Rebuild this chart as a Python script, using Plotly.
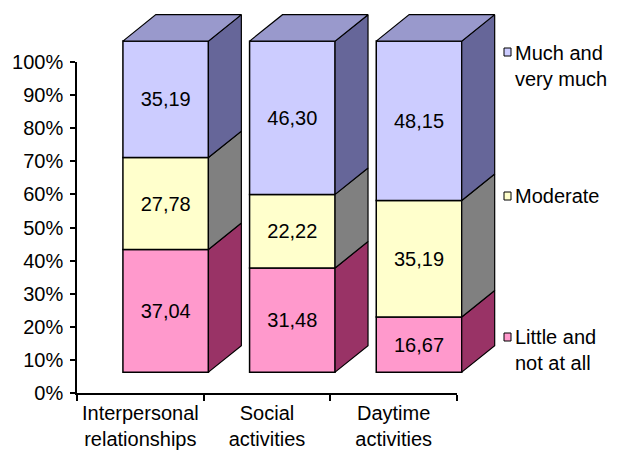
import plotly.graph_objects as go

# ---- data -------------------------------------------------------------
categories = ["Interpersonal<br>relationships", "Social<br>activities", "Daytime<br>activities"]
series_names = ["Little and<br>not at all", "Moderate", "Much and<br>very much"]
little = [37.04, 31.48, 16.67]
moderate = [27.78, 22.22, 35.19]
much = [35.19, 46.30, 48.15]
y_tick_values = [0, 10, 20, 30, 40, 50, 60, 70, 80, 90, 100]
y_tick_labels = [f"{v}%" for v in y_tick_values]

# ---- styling ------------------------------------------------------------
FRONT = ["#FF99CC", "#FFFFCC", "#CCCCFF"]
SIDE = ["#993366", "#808080", "#666699"]
TOP = "#9999CC"
FONT = "Liberation Sans, Arial, sans-serif"

W, H = 620, 452
# pixel frame of the value / category axes
AX_L, AX_R, AX_B, AX_T = 77, 457, 393, 62
UX = (AX_R - AX_L) / len(categories)      # px per category
UY = (AX_B - AX_T) / 100.0                # px per percent

# pseudo-3D geometry, in axis units
LIFT = 6.3        # front face sits above the floor line
DX, DY = 0.26, 8.0  # depth offset of the back face
SHIFT = 0.70      # bar centre inside each category slot
BAR_W = 0.675

series = [little, moderate, much]
centers = [i + SHIFT for i in range(len(categories))]

fig = go.Figure()

# front faces: stacked bars
bases = [LIFT] * len(categories)
for k, vals in enumerate(series):
    fig.add_trace(go.Bar(
        x=centers, y=vals, base=list(bases), width=BAR_W,
        marker=dict(color=FRONT[k], line=dict(color="black", width=1.5)),
        texttemplate="%{y:.2f}", textposition="inside", insidetextanchor="middle",
        textfont=dict(family=FONT, size=20, color="black"),
        constraintext="none", showlegend=False, hoverinfo="skip",
    ))
    bases = [b + v for b, v in zip(bases, vals)]

# right-hand side faces of each segment
bases = [LIFT] * len(categories)
for k, vals in enumerate(series):
    for i, v in enumerate(vals):
        xr = centers[i] + BAR_W / 2
        y0, y1 = bases[i], bases[i] + v
        fig.add_trace(go.Scatter(
            x=[xr, xr + DX, xr + DX, xr, xr],
            y=[y0, y0 + DY, y1 + DY, y1, y0],
            mode="lines", fill="toself", fillcolor=SIDE[k],
            line=dict(color="black", width=1.2),
            showlegend=False, hoverinfo="skip",
        ))
    bases = [b + v for b, v in zip(bases, vals)]

# top faces
for i in range(len(categories)):
    xl, xr = centers[i] - BAR_W / 2, centers[i] + BAR_W / 2
    yt = bases[i]
    fig.add_trace(go.Scatter(
        x=[xl, xl + DX, xr + DX, xr, xl],
        y=[yt, yt + DY, yt + DY, yt, yt],
        mode="lines", fill="toself", fillcolor=TOP,
        line=dict(color="black", width=1.2),
        showlegend=False, hoverinfo="skip",
    ))

# carrier trace for the visible axes
fig.add_trace(go.Scatter(x=[None], y=[None], xaxis="x2", yaxis="y2",
                         showlegend=False, hoverinfo="skip"))

# legend entries
legend_rows = [(series_names[2], FRONT[2], 52, 66),
               (series_names[1], FRONT[1], 196, 196),
               (series_names[0], FRONT[0], 337, 349.5)]
for name, col, sq_y, txt_y in legend_rows:
    fig.add_shape(type="rect", xref="paper", yref="paper",
                  x0=504 / W, x1=511 / W,
                  y0=1 - (sq_y + 4) / H, y1=1 - (sq_y - 4) / H,
                  fillcolor=col, line=dict(color="black", width=1))
    fig.add_annotation(text=name, xref="paper", yref="paper",
                       x=513 / W, y=1 - txt_y / H, xanchor="left", yanchor="middle",
                       align="left", showarrow=False,
                       font=dict(family=FONT, size=20, color="black"))

fig.update_layout(
    template="none",
    width=W, height=H,
    margin=dict(l=0, r=0, t=0, b=0, autoexpand=False),
    paper_bgcolor="white", plot_bgcolor="rgba(0,0,0,0)",
    barmode="overlay", separators=",.",
    showlegend=False,
    xaxis=dict(domain=[0, 1], range=[-AX_L / UX, (W - AX_L) / UX],
               visible=False, fixedrange=True, automargin=False),
    yaxis=dict(domain=[0, 1], range=[(AX_B - H) / UY, AX_B / UY],
               visible=False, fixedrange=True, automargin=False),
    xaxis2=dict(domain=[AX_L / W, AX_R / W], range=[0, len(categories)],
                anchor="y2", showline=True, linecolor="black", linewidth=1.5,
                showgrid=False, zeroline=False, automargin=False, fixedrange=True,
                tickmode="array", tickvals=[i + 0.5 for i in range(len(categories))],
                ticktext=categories, ticks="", ticklabelstandoff=1,
                minor=dict(tickmode="array", tickvals=list(range(len(categories) + 1)),
                           ticks="outside", ticklen=6, tickcolor="black", tickwidth=1.5),
                tickfont=dict(family=FONT, size=20, color="black")),
    yaxis2=dict(domain=[(H - AX_B) / H, (H - AX_T) / H], range=[0, 100],
                anchor="x2", showline=True, linecolor="black", linewidth=1.5,
                showgrid=False, zeroline=False, automargin=False, fixedrange=True,
                tickmode="array", tickvals=y_tick_values, ticktext=y_tick_labels,
                ticks="outside", ticklen=5, tickcolor="black", tickwidth=1.5,
                ticklabelstandoff=3,
                tickfont=dict(family=FONT, size=20, color="black")),
)

fig.write_html("out.html")
